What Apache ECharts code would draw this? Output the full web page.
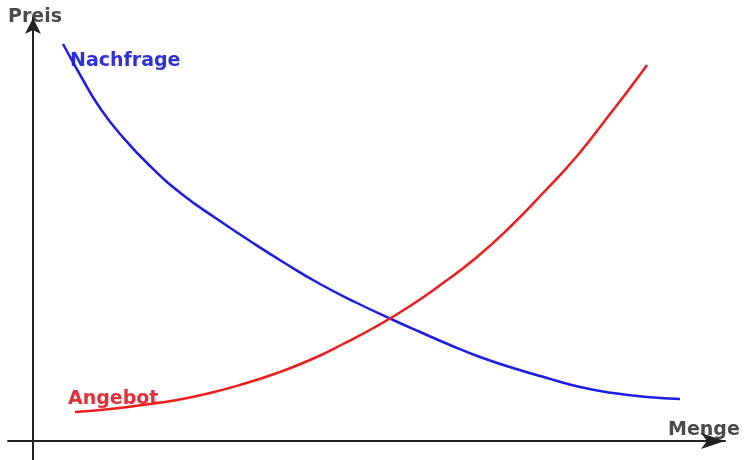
<!DOCTYPE html>
<html>
<head>
<meta charset="utf-8">
<script src="https://cdn.jsdelivr.net/npm/echarts@6/dist/echarts.min.js"></script>
<style>html,body{margin:0;padding:0;background:#fff}#c{width:748px;height:460px}</style>
</head>
<body>
<div id="c"></div>
<script>
// Menge (x) and Preis (y) values
const nachfrageMenge = [30, 50, 67, 87, 117, 150, 184, 217, 250, 287, 324, 358, 387, 417, 447, 480, 514, 547, 580, 614, 647];
const nachfragePreis = [397, 361, 333, 307, 275, 246, 222, 200, 179, 157, 138, 122, 109, 96, 84, 73, 63, 54, 48, 44, 42];
const angebotMenge = [42, 77, 110, 144, 177, 210, 244, 277, 310, 344, 377, 410, 444, 477, 510, 544, 577, 597, 614];
const angebotPreis = [29, 32, 36, 41, 48, 57, 68, 81, 97, 115, 135, 158, 184, 214, 248, 285, 327, 353, 376];
const seriesNames = ['Nachfrage', 'Angebot'];
const axisNames = ['Menge', 'Preis'];

const pair = (xs, ys) => xs.map((x, i) => [x, ys[i]]);
const font = 'DejaVu Sans, Verdana, sans-serif';

const chart = echarts.init(document.getElementById('c'), null, {renderer: 'canvas'});
chart.setOption({
  animation: false,
  backgroundColor: '#fff',
  grid: {left: 8, right: 23, top: 18, bottom: 0},
  xAxis: {
    type: 'value', min: -25, max: 692,
    axisLine: {onZero: true, symbol: ['none', 'arrow'], symbolSize: [12, 24],
      lineStyle: {color: '#222', width: 2}},
    axisTick: {show: false}, axisLabel: {show: false}, splitLine: {show: false}
  },
  yAxis: {
    type: 'value', min: -19, max: 423,
    axisLine: {onZero: true, symbol: ['none', 'arrow'], symbolSize: [12, 16],
      lineStyle: {color: '#222', width: 2}},
    axisTick: {show: false}, axisLabel: {show: false}, splitLine: {show: false}
  },
  series: [
    {name: seriesNames[0], type: 'line', smooth: 0.5, showSymbol: false,
     data: pair(nachfrageMenge, nachfragePreis),
     lineStyle: {color: '#1c1ce6', width: 2.5}},
    {name: seriesNames[1], type: 'line', smooth: 0.5, showSymbol: false,
     data: pair(angebotMenge, angebotPreis),
     lineStyle: {color: '#f01c1c', width: 2.5}}
  ],
  graphic: [
    {type: 'text', x: 8, y: 27, style: {text: axisNames[1], font: 'bold 19px ' + font, fill: '#4a4a4a', verticalAlign: 'bottom'}},
    {type: 'text', x: 668, y: 440, style: {text: axisNames[0], font: 'bold 19px ' + font, fill: '#4a4a4a', verticalAlign: 'bottom'}},
    {type: 'text', x: 70, y: 71, style: {text: seriesNames[0], font: 'bold 19px ' + font, fill: '#3030d8', verticalAlign: 'bottom'}},
    {type: 'text', x: 68, y: 409, style: {text: seriesNames[1], font: 'bold 19px ' + font, fill: '#e0303a', verticalAlign: 'bottom'}}
  ]
});
</script>
</body>
</html>
